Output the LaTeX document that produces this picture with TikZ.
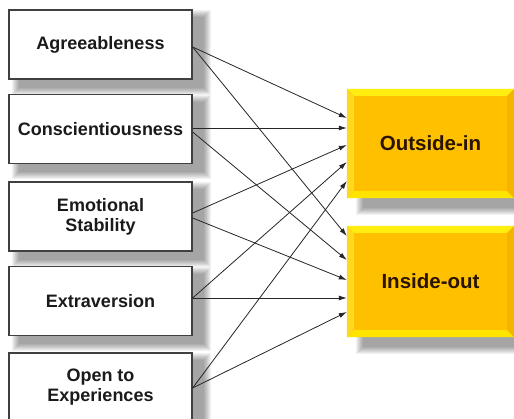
\documentclass[tikz,border=0pt]{standalone}
\usepackage{fontspec}
\setmainfont{Liberation Sans}
\usetikzlibrary{arrows.meta,calc}
\definecolor{goldface}{HTML}{FFC000}
\definecolor{bevtop}{HTML}{FFEE10}
\definecolor{bevbot}{HTML}{FFE400}
\definecolor{bevleft}{HTML}{FFD820}
\definecolor{bevright}{HTML}{F4B400}
\definecolor{boxline}{HTML}{404040}
\definecolor{txtdark}{HTML}{1A1A1A}
\definecolor{txtbrown}{HTML}{2A1400}
\tikzset{
  trait/.style={draw=boxline, line width=1.3pt, fill=white, minimum width=183pt, minimum height=69pt,
    align=center, text=txtdark, font=\fontsize{18}{20}\selectfont\bfseries, inner sep=0pt},
  outcome/.style={fill=goldface, minimum width=167pt, inner sep=0pt,
    text=txtbrown, font=\fontsize{20.5}{24}\selectfont\bfseries},
  arr/.style={-{Latex[length=8pt,width=5pt]}, line width=0.8pt, draw=black!85},
}
\newcommand{\mysoftshadow}[3]{% node, dx, dy
  \foreach \i in {0,...,7}{
    \fill[black, opacity=0.05]
      ([shift={(#2-\i,#3+\i)}]#1.south west) rectangle ([shift={(#2+\i,#3-\i)}]#1.north east);
  }}
\newcommand{\mybevel}[1]{%
  \def\b{7}
  \fill[bevtop] (#1.north west) -- (#1.north east) -- ([shift={(-\b,\b)}]#1.north east) -- ([shift={(\b,\b)}]#1.north west) -- cycle;
  \fill[bevbot] (#1.south west) -- (#1.south east) -- ([shift={(-\b,-\b)}]#1.south east) -- ([shift={(\b,-\b)}]#1.south west) -- cycle;
  \fill[bevleft] (#1.north west) -- ([shift={(\b,\b)}]#1.north west) -- ([shift={(\b,-\b)}]#1.south west) -- (#1.south west) -- cycle;
  \fill[bevright] (#1.north east) -- ([shift={(-\b,\b)}]#1.north east) -- ([shift={(-\b,-\b)}]#1.south east) -- (#1.south east) -- cycle;
}
\begin{document}
\begin{tikzpicture}[x=1pt,y=-1pt]
\useasboundingbox[fill=white] (0,0) rectangle (514,419);

% invisible placeholders for shadows
\path (100.5,44.5) node[trait,draw=none,fill=none] (A0) {};
\path (100.5,129) node[trait,draw=none,fill=none] (C0) {};
\path (100.5,216.5) node[trait,draw=none,fill=none] (E0) {};
\path (100.5,301) node[trait,draw=none,fill=none] (X0) {};
\path (100.5,387.5) node[trait,draw=none,fill=none] (P0) {};
\path (430.5,143.5) node[outcome,fill=none,minimum height=109pt] (O0) {};
\path (430.5,281.5) node[outcome,fill=none,minimum height=111pt] (I0) {};

\mysoftshadow{A0}{11}{8}
\mysoftshadow{C0}{11}{8}
\mysoftshadow{E0}{11}{8}
\mysoftshadow{X0}{11}{8}
\mysoftshadow{P0}{11}{8}
\mysoftshadow{O0}{16}{10}
\mysoftshadow{I0}{16}{10}

\node[trait] (A) at (100.5,44.5) {Agreeableness};
\node[trait] (C) at (100.5,129) {Conscientiousness};
\node[trait] (E) at (100.5,216.5) {Emotional\\Stability};
\node[trait] (X) at (100.5,301) {Extraversion};
\node[trait] (P) at (100.5,387.5) {Open to\\Experiences};

\node[outcome,minimum height=109pt] (O) at (430.5,143.5) {Outside-in};
\mybevel{O}
\node[outcome,minimum height=111pt] (I) at (430.5,281.5) {Inside-out};
\mybevel{I}

% connectors to Outside-in
\draw[arr] ([shift={(0,2.5)}]A.east) -- ([shift={(0,-25.5)}]O.west);
\draw[arr] ([shift={(0,-1)}]C.east) -- ([shift={(0,-15.5)}]O.west);
\draw[arr] ([shift={(0,-3.5)}]E.east) -- ([shift={(0,1.5)}]O.west);
\draw[arr] ([shift={(0,-3)}]X.east) -- ([shift={(0,18.5)}]O.west);
\draw[arr] ([shift={(0,0.5)}]P.east) -- ([shift={(0,37.5)}]O.west);
% connectors to Inside-out
\draw[arr] ([shift={(0,2.5)}]A.east) -- ([shift={(0,-45.5)}]I.west);
\draw[arr] ([shift={(0,3)}]C.east) -- ([shift={(0,-21.5)}]I.west);
\draw[arr] ([shift={(0,1.5)}]E.east) -- ([shift={(0,-1.5)}]I.west);
\draw[arr] ([shift={(0,-3)}]X.east) -- ([shift={(0,16.5)}]I.west);
\draw[arr] ([shift={(0,0.5)}]P.east) -- ([shift={(0,30.5)}]I.west);
\end{tikzpicture}
\end{document}
